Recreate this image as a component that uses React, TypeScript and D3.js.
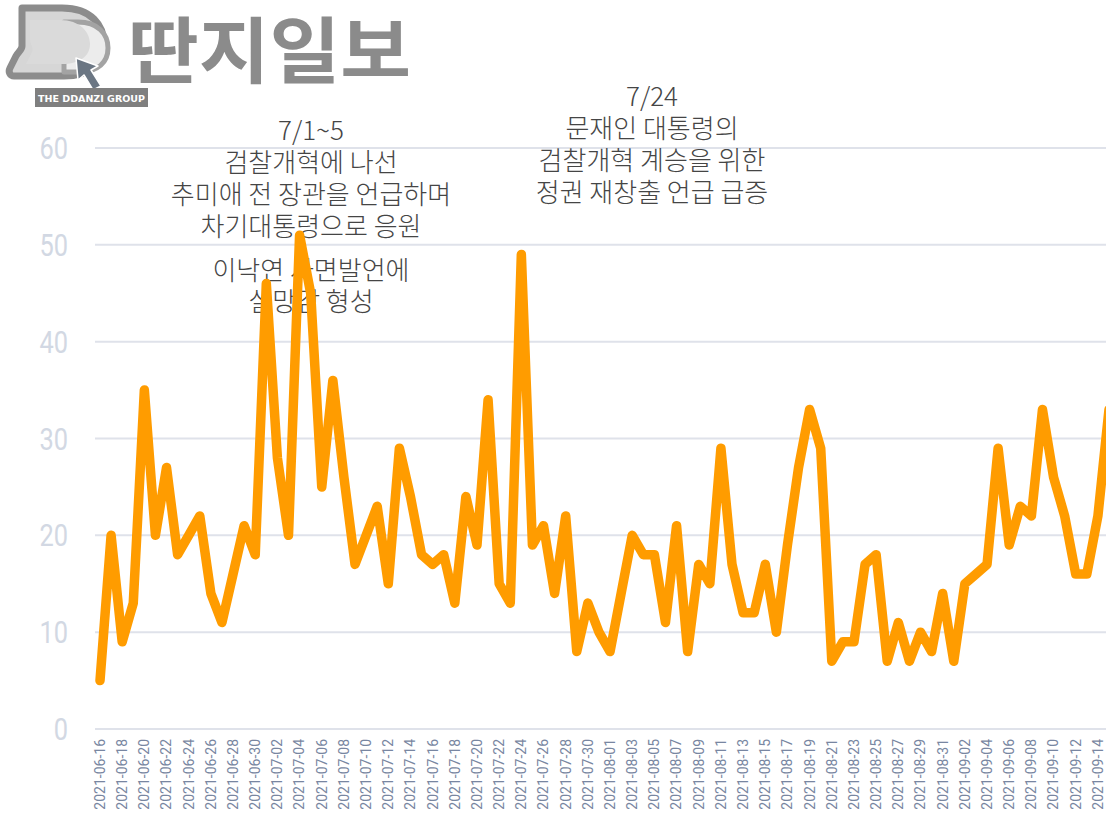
import React from 'react';
import * as d3 from 'd3';

// daily mention counts, 2021-06-16 .. 2021-09-15
const startDate = '2021-06-16';
const counts = [
  5, 20, 9, 13, 35, 20, 27, 18, 20, 22, 14, 11, 16, 21, 18,
  46, 28, 20, 51, 45, 25, 36, 26, 17, 20, 23, 15, 29, 24, 18, 17, 18, 13, 24, 19, 34, 15, 13, 49, 19, 21, 14, 22, 8, 13, 10,
  8, 14, 20, 18, 18, 11, 21, 8, 17, 15, 29, 17, 12, 12, 17, 10, 19, 27, 33, 29, 7, 9, 9, 17, 18, 7, 11, 7, 10, 8, 14,
  7, 15, 16, 17, 29, 19, 23, 22, 33, 26, 22, 16, 16, 22, 33,
];
const yTicks = [0, 10, 20, 30, 40, 50, 60];

const noteA = ['7/1~5', '검찰개혁에 나선', '추미애 전 장관을 언급하며', '차기대통령으로 응원'];
const noteB = ['이낙연 사면발언에', '실망감 형성'];
const noteC = ['7/24', '문재인 대통령의', '검찰개혁 계승을 위한', '정권 재창출 언급 급증'];

const W = 1106;
const H = 817;

const parse = d3.utcParse('%Y-%m-%d');
const fmt = d3.utcFormat('%Y-%m-%d');
const t0 = parse(startDate) as Date;
const dates = counts.map((_, i) => d3.utcDay.offset(t0, i));
const data = counts.map((v, i) => ({ date: dates[i], value: v }));

const App: React.FC = () => {
  const x = d3.scaleUtc().domain([dates[0], dates[dates.length - 1]]).range([100, 1109]);
  const y = d3.scaleLinear().domain([0, 60]).range([729, 148]);

  const line = d3.line<{ date: Date; value: number }>()
    .x(d => x(d.date))
    .y(d => y(d.value));

  // tick every 2 days, last label 09-14
  const xTicks = dates.filter((_, i) => i % 2 === 0 && i <= 90);

  const noteFont = "'Noto Sans CJK KR', sans-serif";

  return (
    <div>
      <style>{`body{margin:0;overflow:hidden}`}</style>
      <svg width={W} height={H} style={{ display: 'block', background: '#fff' }}>
        {/* grid */}
        <g>
          {yTicks.map(t => (
            <line key={t} x1={95} x2={W} y1={y(t)} y2={y(t)} stroke="#dfe2ea" strokeWidth={2} />
          ))}
        </g>
        <g fontFamily="Roboto, sans-serif" fill="#d2d8e3" fontSize={31}>
          {yTicks.map(t => (
            <text key={t} transform={`translate(68,${y(t) + 11}) scale(0.82,1)`} textAnchor="end">{t}</text>
          ))}
        </g>
        <g fontFamily="Roboto, sans-serif" fill="#7886a1" fontSize={14}>
          {xTicks.map(d => (
            <text key={fmt(d)} transform={`translate(${Math.min(x(d), 1098)},739) rotate(-90)`} textAnchor="end" dy="0.35em">
              {fmt(d)}
            </text>
          ))}
        </g>

        {/* annotations */}
        <g fontFamily={noteFont} fontWeight={300} fontSize={26} fill="#454545" textAnchor="middle">
          {noteA.map((s, i) => (
            <text key={s} x={311} y={140 + i * 32}>{s}</text>
          ))}
          {noteB.map((s, i) => (
            <text key={s} x={311} y={280 + i * 31}>{s}</text>
          ))}
          {noteC.map((s, i) => (
            <text key={s} x={652} y={106 + i * 32}>{s}</text>
          ))}
        </g>

        {/* series */}
        <path d={line(data) ?? ''} fill="none" stroke="#ff9c00" strokeWidth={9.5}
          strokeLinejoin="round" strokeLinecap="round" />

        {/* logo */}
        <g>
          <path d="M22,8 H62 C92,8 104,26 104,44 C104,64 90,76 64,76 H14 C10,76 8,72 10,68 L16,56 C18,52 22,50 22,46 Z"
            fill="#d6d6d6" stroke="#8c8c8c" strokeWidth={7} strokeLinejoin="round" />
          <path d="M64,22 H78 C98,22 108,34 108,48 C108,62 98,72 80,72 H64 Z"
            fill="#ececec" stroke="#a3a3a3" strokeWidth={5} strokeLinejoin="round" />
          <path d="M30,20 H60 C80,20 90,32 90,44 C90,56 80,64 62,64 H26 L32,52 C34,48 30,44 30,40 Z"
            fill="#dadada" stroke="none" />
          <path d="M76,58 L98,66 L91,70 L101,86 L93,90 L84,75 L78,80 Z" fill="#6b7683" stroke="#fff" strokeWidth={1.5} strokeLinejoin="round" />
          <rect x={35} y={88} width={113} height={19} fill="#7f7f7f" />
          <text x={91.5} y={102} textAnchor="middle" fill="#fff" fontFamily="'DejaVu Sans', sans-serif"
            fontWeight="bold" fontSize={9.5}>THE DDANZI GROUP</text>
          <text x={128} y={77} fill="#8b8b8b" fontFamily="'Noto Sans CJK KR', sans-serif" fontWeight={700}
            fontSize={72} textLength={283} lengthAdjust="spacingAndGlyphs">딴지일보</text>
        </g>
      </svg>
    </div>
  );
};

export default App;
